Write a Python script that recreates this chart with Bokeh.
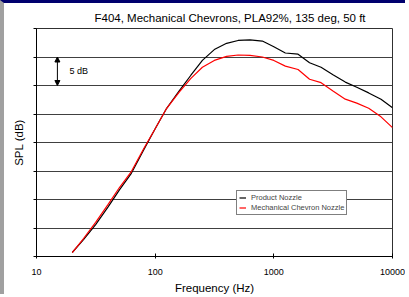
from bokeh.plotting import figure
from bokeh.models import FixedTicker, Label, Arrow, NormalHead, Legend, LegendItem
from bokeh.embed import file_html
from bokeh.resources import INLINE

# 1/3-octave band centre frequencies (Hz)
freq = [20, 25, 31.5, 40, 50, 63, 80, 100, 125, 160, 200, 250, 315, 400, 500,
        630, 800, 1000, 1250, 1600, 2000, 2500, 3150, 4000, 5000, 6300, 8000, 10000]
# relative SPL (dB)
product_nozzle = [0.7, 3.0, 5.6, 8.65, 11.7, 14.6, 18.7, 22.4, 26.0, 29.1, 31.8, 34.4,
                  36.3, 37.4, 37.9, 38.0, 37.8, 36.8, 35.7, 35.5, 34.0, 33.2, 31.9,
                  30.6, 29.7, 28.7, 27.6, 26.1]
chevron_nozzle = [0.7, 3.2, 6.0, 9.1, 12.1, 14.9, 18.9, 22.4, 26.0, 28.9, 31.25, 33.2,
                  34.4, 35.1, 35.35, 35.3, 35.0, 34.4, 33.4, 32.8, 31.1, 30.5, 29.05,
                  27.6, 26.9, 26.0, 24.5, 22.6]
x_ticks = [10, 100, 1000, 10000]
y_ticks = [0, 5, 10, 15, 20, 25, 30, 35, 40]

FONT = "Liberation Sans"

p = figure(width=405, height=294, x_axis_type="log", x_range=(10, 10000), y_range=(0, 40),
           output_backend="svg", toolbar_location=None,
           min_border_left=32, min_border_right=17, min_border_top=25, min_border_bottom=41)
p.styles = {"border-top": "3px solid #00006e", "border-left": "4px solid #a0a0a0"}
p.background_fill_color = "white"
p.border_fill_color = "white"
p.outline_line_color = "#303030"
p.outline_line_width = 1

# title
p.title.text = "F404, Mechanical Chevrons, PLA92%, 135 deg, 50 ft"
p.title.text_font = FONT
p.title.text_font_size = "11.5px"
p.title.text_font_style = "normal"
p.title.text_color = "black"
p.title.align = "left"
p.title.offset = 58
p.title.standoff = 10

# axes
p.xaxis.ticker = FixedTicker(ticks=x_ticks)
p.xaxis.major_label_overrides = {10: "10", 100: "100", 1000: "1000", 10000: "10000"}
p.xaxis.major_tick_in = 3
p.xaxis.major_tick_out = 2
p.xaxis.minor_tick_line_color = None
p.xaxis.axis_line_color = "black"
p.xaxis.major_tick_line_color = "black"
p.xaxis.major_label_text_font = FONT
p.xaxis.major_label_text_font_size = "9px"
p.xaxis.major_label_text_color = "black"
p.xaxis.major_label_standoff = 10
p.xaxis.axis_label = "Frequency (Hz)"
p.xaxis.axis_label_text_font = FONT
p.xaxis.axis_label_text_font_size = "11.5px"
p.xaxis.axis_label_text_font_style = "normal"
p.xaxis.axis_label_text_color = "black"
p.xaxis.axis_label_standoff = 4

p.yaxis.ticker = FixedTicker(ticks=y_ticks)
p.yaxis.major_label_overrides = {t: "" for t in y_ticks}
p.yaxis.major_label_text_color = None
p.yaxis.major_label_standoff = 0
p.yaxis.major_tick_in = 0
p.yaxis.major_tick_out = 3
p.yaxis.minor_tick_line_color = None
p.yaxis.axis_line_color = "black"
p.yaxis.major_tick_line_color = "black"
p.yaxis.axis_label = "SPL (dB)"
p.yaxis.axis_label_text_font = FONT
p.yaxis.axis_label_text_font_size = "11.5px"
p.yaxis.axis_label_text_font_style = "normal"
p.yaxis.axis_label_text_color = "black"
p.yaxis.axis_label_standoff = 9

p.xgrid.grid_line_color = None
p.ygrid.ticker = FixedTicker(ticks=y_ticks)
p.ygrid.grid_line_color = "#404040"
p.ygrid.grid_line_width = 1

r1 = p.line(freq, product_nozzle, line_color="black", line_width=1.2)
r2 = p.line(freq, chevron_nozzle, line_color="#ff0000", line_width=1.2)

legend = Legend(items=[LegendItem(label="Product Nozzle", renderers=[r1]),
                       LegendItem(label="Mechanical Chevron Nozzle", renderers=[r2])],
                location=(200, 41))
legend.border_line_color = "black"
legend.border_line_width = 1
legend.background_fill_color = "white"
legend.background_fill_alpha = 1
legend.label_text_font = FONT
legend.label_text_font_size = "7.5px"
legend.glyph_width = 7
legend.glyph_height = 9
legend.label_height = 9
legend.label_standoff = 5
legend.padding = 2
legend.spacing = 1
legend.margin = 0
p.add_layout(legend)

# 5 dB scale marker
p.add_layout(Arrow(x_start=15, y_start=30, x_end=15, y_end=35, line_color="black", line_width=1,
                   start=NormalHead(size=5, fill_color="black", line_color="black"),
                   end=NormalHead(size=5, fill_color="black", line_color="black")))
p.add_layout(Label(x=19, y=32.5, text="5 dB", text_font=FONT, text_font_size="9px",
                   text_baseline="middle", text_align="left", text_color="black"))

open("out.html", "w").write(file_html(p, INLINE))
